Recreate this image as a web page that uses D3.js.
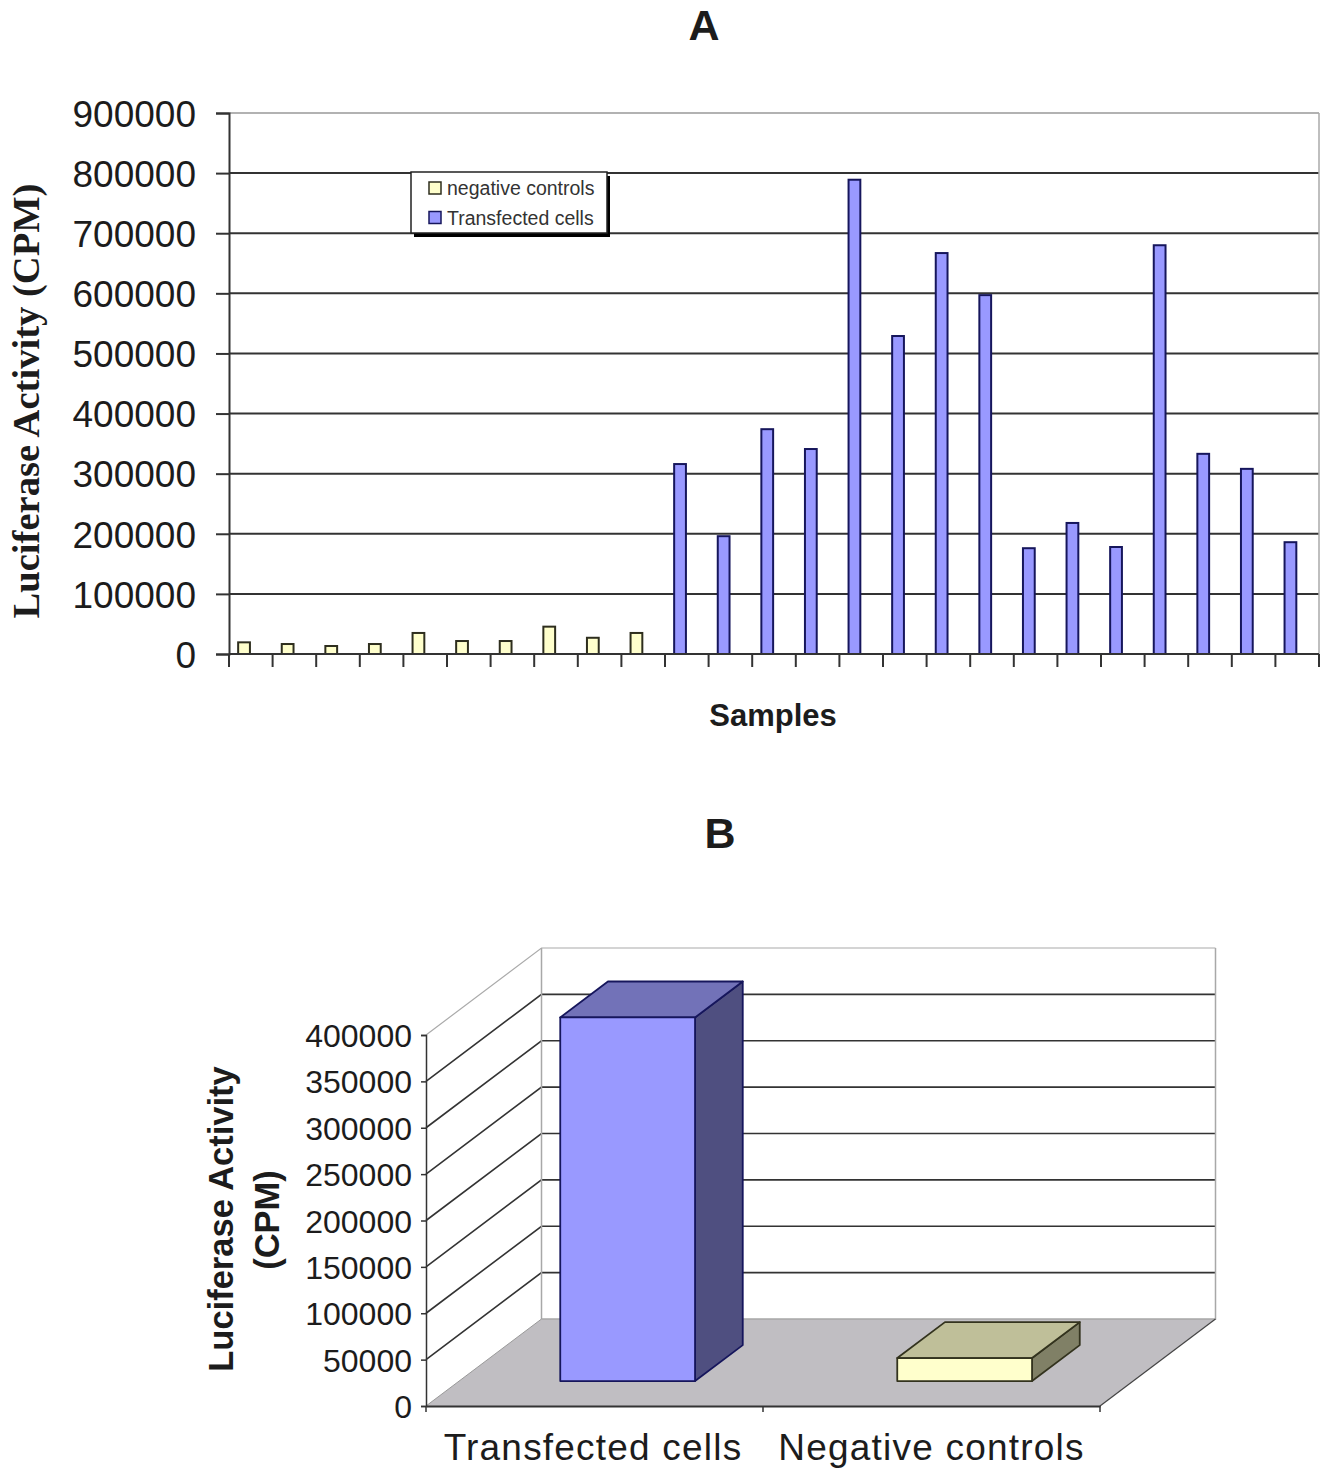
<!DOCTYPE html>
<html>
<head>
<meta charset="utf-8">
<style>
  html, body { margin: 0; padding: 0; background: #fff; }
  svg { display: block; }
  text { fill: #1c1c1c; font-family: "Liberation Sans", Arial, sans-serif; }
</style>
<script src="https://cdn.jsdelivr.net/npm/d3@7"></script>
</head>
<body>
<div id="chart"></div>
<script>
// panel A
var samples = d3.range(1, 26);
var negativeSamples = samples.slice(0, 10);
var negativeControls = [19400, 16600, 13300, 16600, 35000, 21600, 21600, 45500, 27000, 35000];
var transfectedSamples = samples.slice(10);
var transfectedCells = [316000, 196000, 374000, 341000, 789000, 529000, 667000, 597000,
                        176000, 218000, 178000, 680000, 333000, 308000, 186000];
var ticksA = [0, 100000, 200000, 300000, 400000, 500000, 600000, 700000, 800000, 900000];

// panel B
var categoriesB = ['Transfected cells', 'Negative controls'];
var meansB = [392000, 24800];
var ticksB = [0, 50000, 100000, 150000, 200000, 250000, 300000, 350000, 400000];

var width = 1325;
var height = 1471;
var DARK = '#333';

var svg = d3.select('#chart').append('svg')
    .attr('width', width)
    .attr('height', height);

function label(txt, x, y, size, weight, anchor, family, rotate) {
  var t = svg.append('text')
      .attr('text-anchor', anchor || 'middle')
      .style('font-size', size + 'px')
      .style('font-weight', weight || 'normal')
      .text(txt);
  if (family) t.style('font-family', family);
  if (rotate) t.attr('transform', 'translate(' + x + ',' + y + ') rotate(' + rotate + ')');
  else t.attr('x', x).attr('y', y);
  return t;
}

function styleAxis(g, size) {
  g.select('.domain').attr('stroke', DARK).attr('stroke-width', 2);
  g.selectAll('.tick line').attr('stroke', DARK).attr('stroke-width', 2);
  g.selectAll('.tick text')
      .attr('dy', '0.36em')
      .style('font-size', size + 'px')
      .style('font-family', '"Liberation Sans", Arial, sans-serif');
}

function drawA() {
  var x = d3.scaleBand().domain(samples).range([229, 1319]);
  var y = d3.scaleLinear().domain([0, 900000]).range([654, 113]);

  label('A', 704, 40, 43, 'bold');

  // gridlines
  svg.append('g').selectAll('line').data(ticksA.slice(1)).join('line')
      .attr('x1', 229).attr('x2', 1319)
      .attr('y1', function (d) { return y(d); })
      .attr('y2', function (d) { return y(d); })
      .attr('stroke', function (d) { return d === 900000 ? '#999' : DARK; })
      .attr('stroke-width', function (d) { return d === 900000 ? 1.5 : 2; });

  svg.append('line').attr('x1', 1319).attr('x2', 1319).attr('y1', 113).attr('y2', 654)
      .attr('stroke', '#aaa').attr('stroke-width', 1.5);

  function bars(keys, values, fill, stroke) {
    svg.append('g').selectAll('rect').data(values).join('rect')
        .attr('x', function (d, i) { return x(keys[i]) + x.bandwidth() * 0.21; })
        .attr('width', x.bandwidth() * 0.27)
        .attr('y', function (d) { return y(d); })
        .attr('height', function (d) { return y(0) - y(d); })
        .attr('fill', fill)
        .attr('stroke', stroke)
        .attr('stroke-width', 2);
  }
  bars(negativeSamples, negativeControls, '#ffffcc', '#2e2e1e');
  bars(transfectedSamples, transfectedCells, '#9999ff', '#16165c');

  var left = svg.append('g').attr('transform', 'translate(229,0)')
      .call(d3.axisLeft(y).tickValues(ticksA).tickFormat(d3.format('d')).tickSize(13).tickPadding(20));
  styleAxis(left, 37);

  // x ticks sit on the band edges
  var edges = samples.map(function (d) { return x(d); }).concat([1319]);
  svg.append('line').attr('x1', 229).attr('x2', 1319).attr('y1', 654).attr('y2', 654)
      .attr('stroke', DARK).attr('stroke-width', 2);
  svg.append('g').selectAll('line').data(edges).join('line')
      .attr('x1', function (d) { return d; }).attr('x2', function (d) { return d; })
      .attr('y1', 654).attr('y2', 667)
      .attr('stroke', DARK).attr('stroke-width', 2);

  label('Samples', 773, 726, 31, 'bold');
  label('Luciferase Activity (CPM)', 39, 401, 38.6, 'bold', 'middle', '"Liberation Serif", serif', -90);

  // legend
  var lx = 411, ly = 172, lw = 196, lh = 61;
  svg.append('rect').attr('x', lx + 3).attr('y', ly + 4).attr('width', lw).attr('height', lh).attr('fill', '#000');
  svg.append('rect').attr('x', lx).attr('y', ly).attr('width', lw).attr('height', lh)
      .attr('fill', '#fff').attr('stroke', '#222').attr('stroke-width', 1.5);
  var names = ['negative controls', 'Transfected cells'];
  var fills = ['#ffffcc', '#9999ff'];
  var strokes = ['#2e2e1e', '#16165c'];
  names.forEach(function (n, i) {
    var my = ly + 16 + i * 29.5;
    svg.append('rect').attr('x', 429).attr('y', my - 6).attr('width', 12).attr('height', 12)
        .attr('fill', fills[i]).attr('stroke', strokes[i]).attr('stroke-width', 1.5);
    label(n, 447, my + 7, 19.5, 'normal', 'start').style('fill', '#333');
  });
}

function drawB() {
  var x = d3.scaleBand().domain(categoriesB).range([426, 1100]);
  var y = d3.scaleLinear().domain([0, 400000]).range([1406, 1035]);
  // oblique projection of depth (0 front, 1 back)
  var dx = d3.scaleLinear().domain([0, 1]).range([0, 115.5]);
  var dy = d3.scaleLinear().domain([0, 1]).range([0, -87]);
  var x0 = x.range()[0], x1 = x.range()[1];
  var barFront = 0.287, barBack = 0.70;

  function pt(px, py, depth) { return [px + dx(depth), py + dy(depth)]; }
  var poly = d3.line();

  label('B', 720, 848, 43, 'bold');

  // floor
  svg.append('path')
      .attr('d', poly([pt(x0, y(0), 0), pt(x1, y(0), 0), pt(x1, y(0), 1), pt(x0, y(0), 1)]) + 'Z')
      .attr('fill', '#c0bec2');

  // gridlines on both walls
  svg.append('g').selectAll('path').data(ticksB.slice(1)).join('path')
      .attr('d', function (d) {
        return poly([pt(x0, y(d), 0), pt(x0, y(d), 1), pt(x1, y(d), 1)]);
      })
      .attr('fill', 'none')
      .attr('stroke', function (d) { return d === 400000 ? '#aaa' : DARK; })
      .attr('stroke-width', function (d) { return d === 400000 ? 1.2 : 1.6; });

  // wall edges
  svg.append('path')
      .attr('d', poly([pt(x0, y(0), 1), pt(x0, y(400000), 1)]))
      .attr('stroke', '#a8a8a8').attr('stroke-width', 1.5);
  svg.append('path')
      .attr('d', poly([pt(x1, y(400000), 1), pt(x1, y(0), 1), pt(x0, y(0), 1)]))
      .attr('fill', 'none').attr('stroke', '#a8a8a8').attr('stroke-width', 1.5);
  svg.append('path')
      .attr('d', poly([pt(x0, y(0), 0), pt(x0, y(0), 1)]))
      .attr('stroke', '#999').attr('stroke-width', 1);
  svg.append('path')
      .attr('d', poly([pt(x1, y(0), 0), pt(x1, y(0), 1)]))
      .attr('stroke', '#444').attr('stroke-width', 1.2);

  // 3D bars
  var faces = [
    { front: '#9999ff', top: '#7272b8', side: '#4f4f80', line: '#16165c' },
    { front: '#ffffcc', top: '#bfbf99', side: '#808066', line: '#33331e' }
  ];
  var bw = x.bandwidth() * 0.4;
  categoriesB.forEach(function (c, i) {
    var v = meansB[i];
    var l = x(c) + (x.bandwidth() - bw) / 2;
    var r = l + bw;
    var f = faces[i];
    var g = svg.append('g').attr('stroke', f.line).attr('stroke-width', 1.8).attr('stroke-linejoin', 'round');
    var b = y(0), t = y(v);
    g.append('path').attr('fill', f.side)
        .attr('d', poly([pt(r, b, barFront), pt(r, b, barBack), pt(r, t, barBack), pt(r, t, barFront)]) + 'Z');
    g.append('path').attr('fill', f.top)
        .attr('d', poly([pt(l, t, barFront), pt(r, t, barFront), pt(r, t, barBack), pt(l, t, barBack)]) + 'Z');
    g.append('path').attr('fill', f.front)
        .attr('d', poly([pt(l, b, barFront), pt(r, b, barFront), pt(r, t, barFront), pt(l, t, barFront)]) + 'Z');
  });

  var left = svg.append('g').attr('transform', 'translate(426,0)')
      .call(d3.axisLeft(y).tickValues(ticksB).tickFormat(d3.format('d')).tickSize(5).tickPadding(9));
  styleAxis(left, 32);
  left.selectAll('.domain, .tick line').attr('stroke-width', 1.5);

  var bottom = svg.append('g').attr('transform', 'translate(0,1406)')
      .call(d3.axisBottom(x).tickValues([]).tickSize(0));
  bottom.select('.domain').attr('stroke', DARK).attr('stroke-width', 2);
  svg.append('g').selectAll('line').data([x0, x(categoriesB[1]), x1]).join('line')
      .attr('x1', function (d) { return d; }).attr('x2', function (d) { return d; })
      .attr('y1', 1406).attr('y2', 1412)
      .attr('stroke', DARK).attr('stroke-width', 1.5);

  categoriesB.forEach(function (c, i) {
    label(c, x(c) + x.bandwidth() / 2 + (i === 0 ? -1.5 : 0), 1460, 37, 'normal')
        .style('letter-spacing', '1.2px');
  });

  label('Luciferase Activity', 233, 1219, 34.5, 'bold', 'middle', null, -90);
  label('(CPM)', 279, 1220, 34.5, 'bold', 'middle', null, -90);
}

drawA();
drawB();
</script>
</body>
</html>
